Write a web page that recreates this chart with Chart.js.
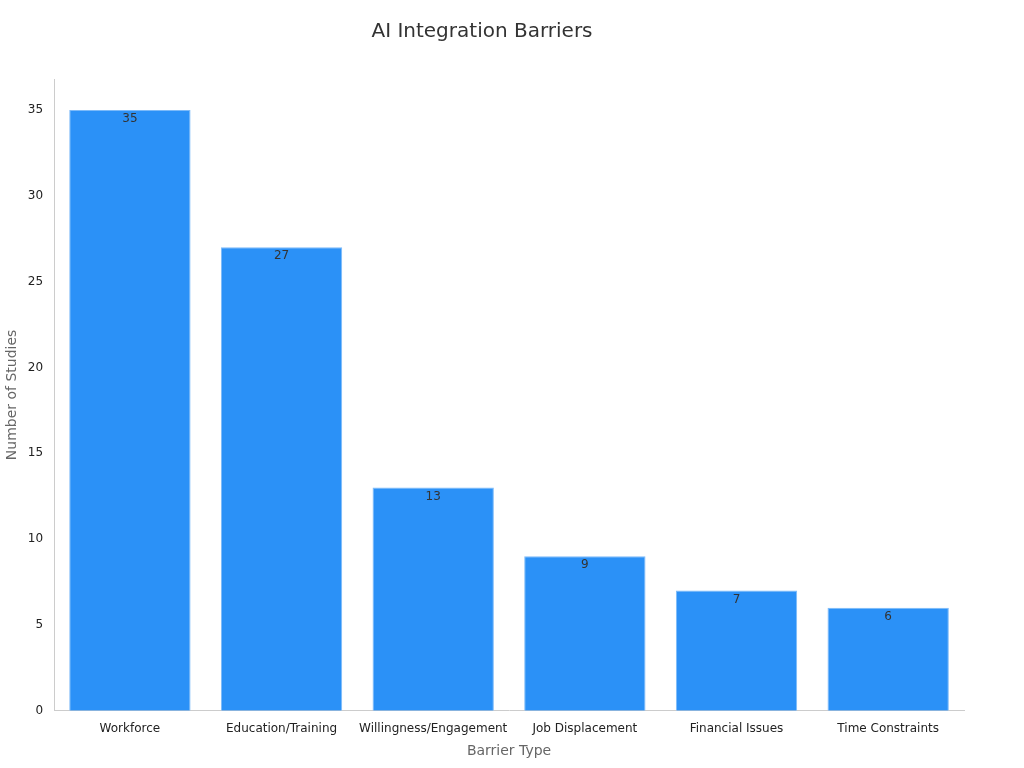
<!DOCTYPE html>
<html><head><meta charset="utf-8">
<script src="https://cdn.jsdelivr.net/npm/chart.js@4/dist/chart.umd.min.js"></script>
<style>html,body{margin:0;background:#fff}#w{width:1024px;height:768px}</style>
</head><body><div id="w"><canvas id="c"></canvas></div>
<script>
const categories = ["Workforce","Education/Training","Willingness/Engagement","Job Displacement","Financial Issues","Time Constraints"];
const studies = [35,27,13,9,7,6];
Chart.defaults.font.family = "DejaVu Sans";
const labelPlugin = {id:'lbl', afterDatasetsDraw(ch){
  const ctx=ch.ctx; const meta=ch.getDatasetMeta(0);
  ctx.save(); ctx.fillStyle='#333'; ctx.font='12px DejaVu Sans'; ctx.textAlign='center'; ctx.textBaseline='top';
  meta.data.forEach((b,i)=>ctx.fillText(String(studies[i]), b.x, b.y+3));
  ctx.restore();
}};
new Chart(document.getElementById('c'),{
  type:'bar',
  data:{labels:categories,datasets:[{data:studies,backgroundColor:'#2b91f7',borderColor:'#7cbaf9',borderWidth:1,categoryPercentage:0.8,barPercentage:1}]},
  options:{responsive:true,maintainAspectRatio:false,animation:false,
    layout:{padding:{left:0,right:60,top:10,bottom:4}},
    plugins:{legend:{display:false},tooltip:{enabled:false},
      title:{display:true,text:'AI Integration Barriers',color:'#333',font:{size:20,weight:'normal'},padding:{top:10,bottom:35}}},
    scales:{
      x:{grid:{display:false,drawTicks:true},border:{color:'#ccc'},ticks:{color:'#222',font:{size:12},maxRotation:0},
        title:{display:true,text:'Barrier Type',color:'#666',font:{size:14}}},
      y:{min:0,max:36.8,grid:{display:false},border:{color:'#ccc'},
        ticks:{stepSize:5,color:'#222',font:{size:12},callback:v=>v%5===0?v:''},
        title:{display:true,text:'Number of Studies',color:'#666',font:{size:14}}}
    }},
  plugins:[labelPlugin]
});
</script></body></html>
